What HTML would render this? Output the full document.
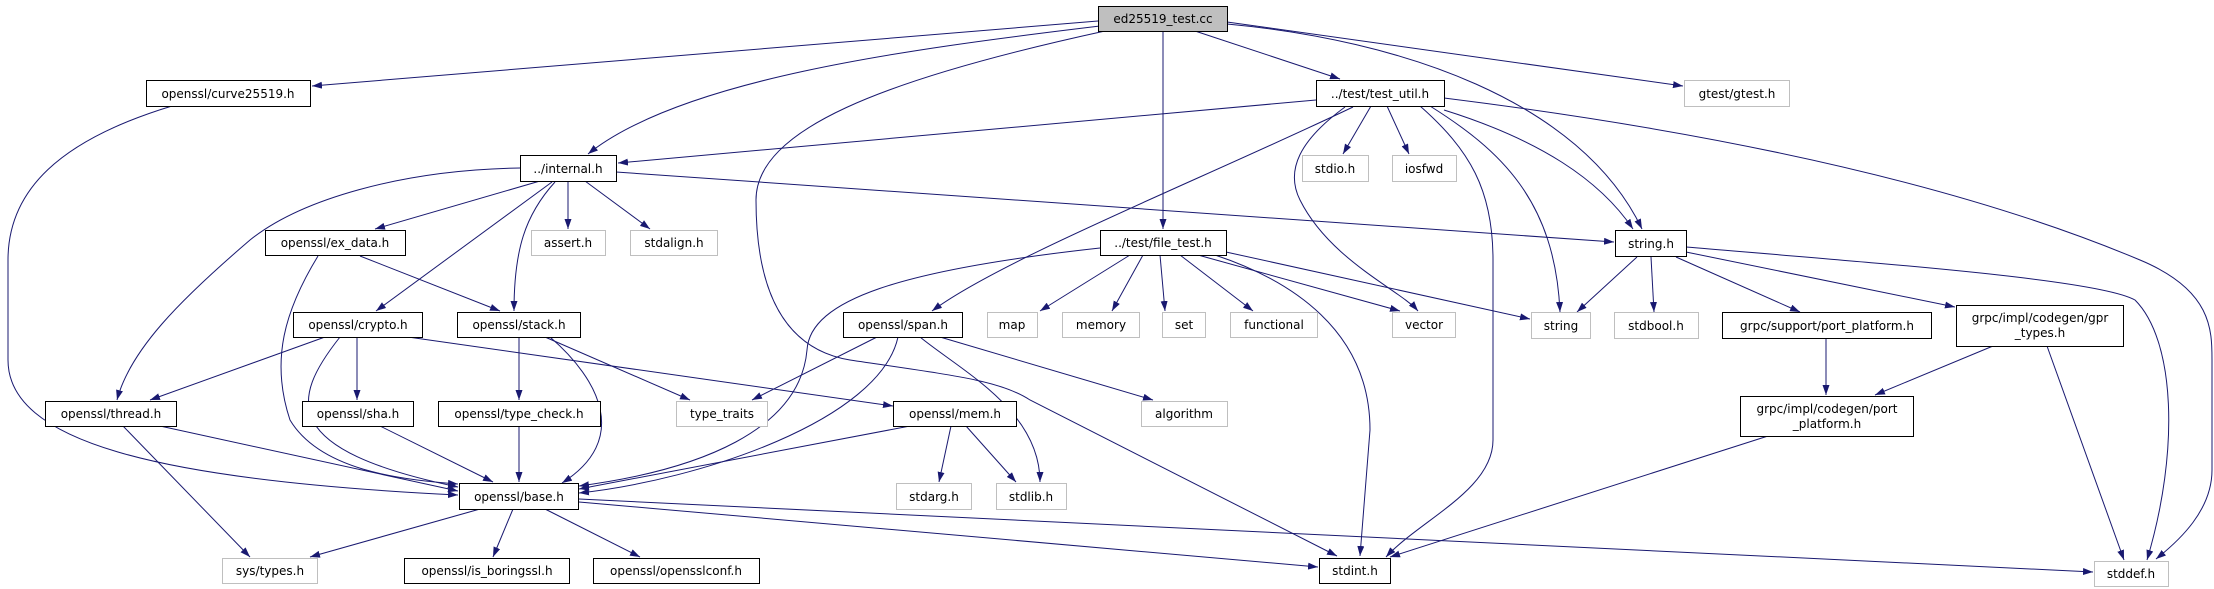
<!DOCTYPE html>
<html><head><meta charset="utf-8"><style>
html,body{margin:0;padding:0;background:#fff;}
svg{display:block;}
text{font-family:"DejaVu Sans","Liberation Sans",sans-serif;font-size:12px;fill:#000;}
.n{fill:#fff;stroke:#000;stroke-width:1;}
.g{fill:#fff;stroke:#bfbfbf;stroke-width:1;}
.e{fill:none;stroke:#191970;stroke-width:1;marker-end:url(#a);}
</style></head><body>
<svg width="2214" height="589" viewBox="0 0 2214 589" xmlns="http://www.w3.org/2000/svg">
<defs><marker id="a" markerUnits="userSpaceOnUse" markerWidth="11" markerHeight="8" refX="10" refY="3.5" orient="auto"><path d="M0,0 L10,3.5 L0,7 z" fill="#191970"/></marker></defs>
<g>
<path class="e" d="M1098,21 L312,86"/>
<path class="e" d="M1100,26 C900,50 680,80 588,154"/>
<path class="e" d="M1105,31 C880,80 756,130 756,200 C756,300 790,350 850,360 C950,375 1000,380 1030,400 L1337,556"/>
<path class="e" d="M1163,31 L1163,229"/>
<path class="e" d="M1195,31 L1340,79"/>
<path class="e" d="M1227,24 C1400,40 1580,100 1642,229"/>
<path class="e" d="M1227,22 L1683,86"/>
<path class="e" d="M1316,100 L618,163"/>
<path class="e" d="M1353,107 C1200,180 1000,260 932,311"/>
<path class="e" d="M1345,107 C1300,140 1285,170 1300,200 C1330,260 1400,290 1418,311"/>
<path class="e" d="M1371,106 L1343,154"/>
<path class="e" d="M1387,106 L1409,154"/>
<path class="e" d="M1420,106 C1470,150 1493,190 1493,260 L1493,440 C1493,490 1420,520 1386,557"/>
<path class="e" d="M1215,255 C1290,280 1370,330 1370,430 L1360,556"/>
<path class="e" d="M1430,106 C1500,150 1555,200 1560,312"/>
<path class="e" d="M1444,110 C1540,140 1600,180 1633,229"/>
<path class="e" d="M1444,98 C1700,130 1950,180 2140,260 C2212,290 2212,330 2212,360 L2212,470 C2212,510 2180,540 2156,559"/>
<path class="e" d="M520,168 C400,170 300,200 250,240 C180,300 130,350 117,400"/>
<path class="e" d="M540,181 L375,229"/>
<path class="e" d="M552,182 L376,311"/>
<path class="e" d="M555,182 C525,215 514,250 514,311"/>
<path class="e" d="M568,181 L568,229"/>
<path class="e" d="M585,181 L650,229"/>
<path class="e" d="M616,172 L1614,242"/>
<path class="e" d="M318,256 C285,310 270,360 290,420 C320,470 400,480 458,484"/>
<path class="e" d="M360,256 L500,311"/>
<path class="e" d="M325,337 L150,400"/>
<path class="e" d="M340,337 C290,400 280,450 458,487"/>
<path class="e" d="M357,337 L357,400"/>
<path class="e" d="M408,337 L893,406"/>
<path class="e" d="M519,337 L519,400"/>
<path class="e" d="M545,337 L690,400"/>
<path class="e" d="M550,337 C600,380 630,440 562,483"/>
<path class="e" d="M1100,248 C900,270 810,300 807,350 C800,430 700,470 579,486"/>
<path class="e" d="M898,337 C880,420 700,480 579,493"/>
<path class="e" d="M877,337 L752,400"/>
<path class="e" d="M920,337 C960,370 1040,410 1040,482"/>
<path class="e" d="M940,337 L1153,400"/>
<path class="e" d="M1130,255 L1040,311"/>
<path class="e" d="M1143,255 L1112,311"/>
<path class="e" d="M1160,255 L1165,311"/>
<path class="e" d="M1180,255 L1253,311"/>
<path class="e" d="M1198,255 L1400,311"/>
<path class="e" d="M1226,252 L1530,319"/>
<path class="e" d="M910,426 L579,489"/>
<path class="e" d="M951,426 L939,482"/>
<path class="e" d="M966,426 L1016,482"/>
<path class="e" d="M160,426 L458,491"/>
<path class="e" d="M123,426 L250,557"/>
<path class="e" d="M380,426 L493,482"/>
<path class="e" d="M519,426 L519,482"/>
<path class="e" d="M172,106 C60,140 8,190 8,260 L8,360 C8,440 150,480 458,495"/>
<path class="e" d="M480,509 L310,557"/>
<path class="e" d="M513,509 L493,557"/>
<path class="e" d="M545,509 L640,557"/>
<path class="e" d="M579,502 L1318,567"/>
<path class="e" d="M579,499 L2093,572"/>
<path class="e" d="M1637,257 L1577,312"/>
<path class="e" d="M1651,257 L1654,312"/>
<path class="e" d="M1676,257 L1800,312"/>
<path class="e" d="M1686,252 L1955,307"/>
<path class="e" d="M1686,247 C1900,265 2100,280 2135,300 C2175,340 2180,450 2147,560"/>
<path class="e" d="M1826,339 L1826,395"/>
<path class="e" d="M1993,346 L1875,395"/>
<path class="e" d="M2047,346 L2124,560"/>
<path class="e" d="M1768,436 L1390,557"/>
</g>
<g>
<rect x="1098.5" y="6.5" width="129" height="25" fill="#bfbfbf" stroke="#000"/><text x="1163" y="23" text-anchor="middle">ed25519_test.cc</text>
<rect class="n" x="146.5" y="80.5" width="164" height="26"/><text x="228" y="98" text-anchor="middle">openssl/curve25519.h</text>
<rect class="n" x="1316.5" y="80.5" width="128" height="26"/><text x="1380" y="98" text-anchor="middle">../test/test_util.h</text>
<rect class="g" x="1684.5" y="80.5" width="105" height="26"/><text x="1737" y="98" text-anchor="middle">gtest/gtest.h</text>
<rect class="n" x="520.5" y="155.5" width="96" height="26"/><text x="568" y="173" text-anchor="middle">../internal.h</text>
<rect class="g" x="1302.5" y="155.5" width="66" height="26"/><text x="1335" y="173" text-anchor="middle">stdio.h</text>
<rect class="g" x="1392.5" y="155.5" width="64" height="26"/><text x="1424" y="173" text-anchor="middle">iosfwd</text>
<rect class="n" x="1100.5" y="230.5" width="126" height="25"/><text x="1163" y="247" text-anchor="middle">../test/file_test.h</text>
<rect class="n" x="265.5" y="230.5" width="140" height="25"/><text x="335" y="247" text-anchor="middle">openssl/ex_data.h</text>
<rect class="g" x="531.5" y="230.5" width="74" height="25"/><text x="568" y="247" text-anchor="middle">assert.h</text>
<rect class="g" x="630.5" y="230.5" width="87" height="25"/><text x="674" y="247" text-anchor="middle">stdalign.h</text>
<rect class="n" x="1615.5" y="230.5" width="71" height="26"/><text x="1651" y="248" text-anchor="middle">string.h</text>
<rect class="n" x="293.5" y="312.5" width="129" height="25"/><text x="358" y="329" text-anchor="middle">openssl/crypto.h</text>
<rect class="n" x="457.5" y="312.5" width="123" height="25"/><text x="519" y="329" text-anchor="middle">openssl/stack.h</text>
<rect class="n" x="843.5" y="312.5" width="119" height="25"/><text x="903" y="329" text-anchor="middle">openssl/span.h</text>
<rect class="g" x="987.5" y="312.5" width="50" height="25"/><text x="1012" y="329" text-anchor="middle">map</text>
<rect class="g" x="1062.5" y="312.5" width="77" height="25"/><text x="1101" y="329" text-anchor="middle">memory</text>
<rect class="g" x="1162.5" y="312.5" width="43" height="25"/><text x="1184" y="329" text-anchor="middle">set</text>
<rect class="g" x="1230.5" y="312.5" width="87" height="25"/><text x="1274" y="329" text-anchor="middle">functional</text>
<rect class="g" x="1392.5" y="312.5" width="63" height="25"/><text x="1424" y="329" text-anchor="middle">vector</text>
<rect class="g" x="1531.5" y="312.5" width="59" height="26"/><text x="1561" y="330" text-anchor="middle">string</text>
<rect class="g" x="1614.5" y="312.5" width="84" height="26"/><text x="1656" y="330" text-anchor="middle">stdbool.h</text>
<rect class="n" x="1722.5" y="312.5" width="209" height="26"/><text x="1827" y="330" text-anchor="middle">grpc/support/port_platform.h</text>
<rect class="n" x="1956.5" y="305.5" width="167" height="41"/><text x="2040" y="322" text-anchor="middle">grpc/impl/codegen/gpr</text><text x="2040" y="337" text-anchor="middle">_types.h</text>
<rect class="n" x="45.5" y="401.5" width="131" height="25"/><text x="111" y="418" text-anchor="middle">openssl/thread.h</text>
<rect class="n" x="302.5" y="401.5" width="111" height="25"/><text x="358" y="418" text-anchor="middle">openssl/sha.h</text>
<rect class="n" x="438.5" y="401.5" width="162" height="25"/><text x="519" y="418" text-anchor="middle">openssl/type_check.h</text>
<rect class="g" x="676.5" y="401.5" width="91" height="25"/><text x="722" y="418" text-anchor="middle">type_traits</text>
<rect class="n" x="893.5" y="401.5" width="123" height="25"/><text x="955" y="418" text-anchor="middle">openssl/mem.h</text>
<rect class="g" x="1141.5" y="401.5" width="86" height="25"/><text x="1184" y="418" text-anchor="middle">algorithm</text>
<rect class="n" x="1740.5" y="396.5" width="173" height="40"/><text x="1827" y="413" text-anchor="middle">grpc/impl/codegen/port</text><text x="1827" y="428" text-anchor="middle">_platform.h</text>
<rect class="n" x="459.5" y="483.5" width="119" height="26"/><text x="519" y="501" text-anchor="middle">openssl/base.h</text>
<rect class="g" x="896.5" y="483.5" width="75" height="26"/><text x="934" y="501" text-anchor="middle">stdarg.h</text>
<rect class="g" x="996.5" y="483.5" width="70" height="26"/><text x="1031" y="501" text-anchor="middle">stdlib.h</text>
<rect class="g" x="222.5" y="558.5" width="95" height="25"/><text x="270" y="575" text-anchor="middle">sys/types.h</text>
<rect class="n" x="404.5" y="558.5" width="165" height="25"/><text x="487" y="575" text-anchor="middle">openssl/is_boringssl.h</text>
<rect class="n" x="593.5" y="558.5" width="166" height="25"/><text x="676" y="575" text-anchor="middle">openssl/opensslconf.h</text>
<rect class="n" x="1319.5" y="558.5" width="71" height="25"/><text x="1355" y="575" text-anchor="middle">stdint.h</text>
<rect class="g" x="2094.5" y="561.5" width="74" height="25"/><text x="2131" y="578" text-anchor="middle">stddef.h</text>
</g>
</svg>
</body></html>
